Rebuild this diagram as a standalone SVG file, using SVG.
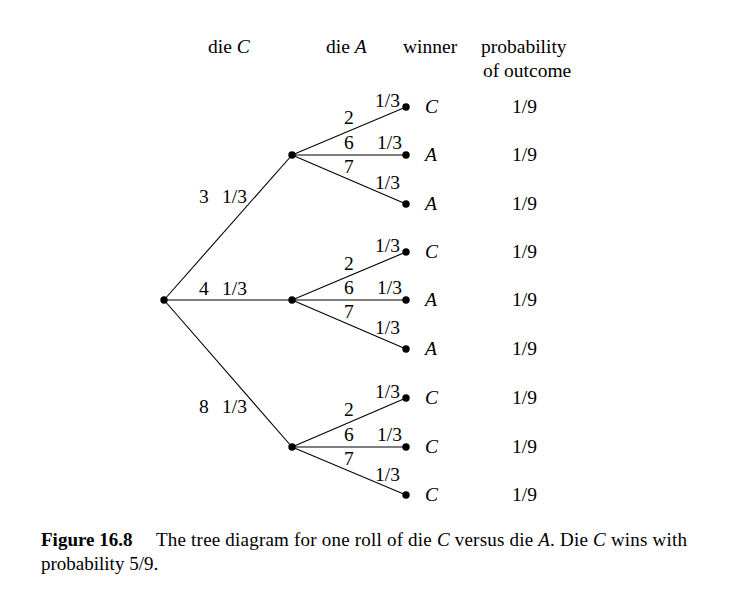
<svg xmlns="http://www.w3.org/2000/svg" width="732" height="598" viewBox="0 0 732 598">
<style>
text{font-family:"Liberation Serif","Times New Roman",serif;font-size:19.5px;fill:#000}
.i{font-style:italic}
.b{font-weight:bold}
.cap{font-size:19px}
line{stroke:#000;stroke-width:1.1}
circle{fill:#000}
</style>
<rect width="732" height="598" fill="#fff"/>
<g id="headers">
<text x="208" y="53">die <tspan class="i">C</tspan></text>
<text x="326" y="53">die <tspan class="i">A</tspan></text>
<text x="403" y="53">winner</text>
<text x="481" y="53">probability</text>
<text x="483" y="77">of outcome</text>
</g>
<g id="connectors">
<line x1="164" y1="300" x2="292" y2="155"/>
<line x1="164" y1="300" x2="292" y2="300"/>
<line x1="164" y1="300" x2="292" y2="447"/>
<line x1="292" y1="155" x2="406" y2="107"/>
<line x1="292" y1="155" x2="406" y2="155"/>
<line x1="292" y1="155" x2="406" y2="204"/>
<line x1="292" y1="300" x2="406" y2="252"/>
<line x1="292" y1="300" x2="406" y2="300"/>
<line x1="292" y1="300" x2="406" y2="349"/>
<line x1="292" y1="447" x2="406" y2="398"/>
<line x1="292" y1="447" x2="406" y2="447"/>
<line x1="292" y1="447" x2="406" y2="495"/>
</g>
<g id="edge-labels">
<text x="199" y="203">3</text><text x="222" y="203">1/3</text>
<text x="199" y="295">4</text><text x="222" y="295">1/3</text>
<text x="199" y="413">8</text><text x="222" y="413">1/3</text>
<text x="344" y="124">2</text><text x="375" y="107">1/3</text>
<text x="344" y="149">6</text><text x="377" y="149">1/3</text>
<text x="344" y="173">7</text><text x="375" y="189">1/3</text>
<text x="344" y="270">2</text><text x="375" y="252">1/3</text>
<text x="344" y="294">6</text><text x="377" y="294">1/3</text>
<text x="344" y="318">7</text><text x="375" y="334">1/3</text>
<text x="344" y="416">2</text><text x="375" y="398">1/3</text>
<text x="344" y="441">6</text><text x="377" y="441">1/3</text>
<text x="344" y="465">7</text><text x="375" y="481">1/3</text>
</g>
<g id="root"><circle cx="164" cy="300" r="3.7"/></g>
<g id="n3"><circle cx="292" cy="155" r="3.7"/></g>
<g id="n4"><circle cx="292" cy="300" r="3.7"/></g>
<g id="n8"><circle cx="292" cy="447" r="3.7"/></g>
<g id="leaf1"><circle cx="406" cy="107" r="3.7"/><text x="425" y="113" class="i">C</text><text x="512" y="113">1/9</text></g>
<g id="leaf2"><circle cx="406" cy="155" r="3.7"/><text x="425" y="161" class="i">A</text><text x="512" y="161">1/9</text></g>
<g id="leaf3"><circle cx="406" cy="204" r="3.7"/><text x="425" y="210" class="i">A</text><text x="512" y="210">1/9</text></g>
<g id="leaf4"><circle cx="406" cy="252" r="3.7"/><text x="425" y="258" class="i">C</text><text x="512" y="258">1/9</text></g>
<g id="leaf5"><circle cx="406" cy="300" r="3.7"/><text x="425" y="306" class="i">A</text><text x="512" y="306">1/9</text></g>
<g id="leaf6"><circle cx="406" cy="349" r="3.7"/><text x="425" y="355" class="i">A</text><text x="512" y="355">1/9</text></g>
<g id="leaf7"><circle cx="406" cy="398" r="3.7"/><text x="425" y="404" class="i">C</text><text x="512" y="404">1/9</text></g>
<g id="leaf8"><circle cx="406" cy="447" r="3.7"/><text x="425" y="453" class="i">C</text><text x="512" y="453">1/9</text></g>
<g id="leaf9"><circle cx="406" cy="495" r="3.7"/><text x="425" y="501" class="i">C</text><text x="512" y="501">1/9</text></g>
<g id="caption">
<text x="41" y="546" class="cap b">Figure 16.8</text>
<text x="156" y="546" class="cap" textLength="531" lengthAdjust="spacing">The tree diagram for one roll of die <tspan class="i">C</tspan> versus die <tspan class="i">A</tspan>. Die <tspan class="i">C</tspan> wins with</text>
<text x="41" y="570" class="cap">probability 5/9.</text>
</g>
</svg>
